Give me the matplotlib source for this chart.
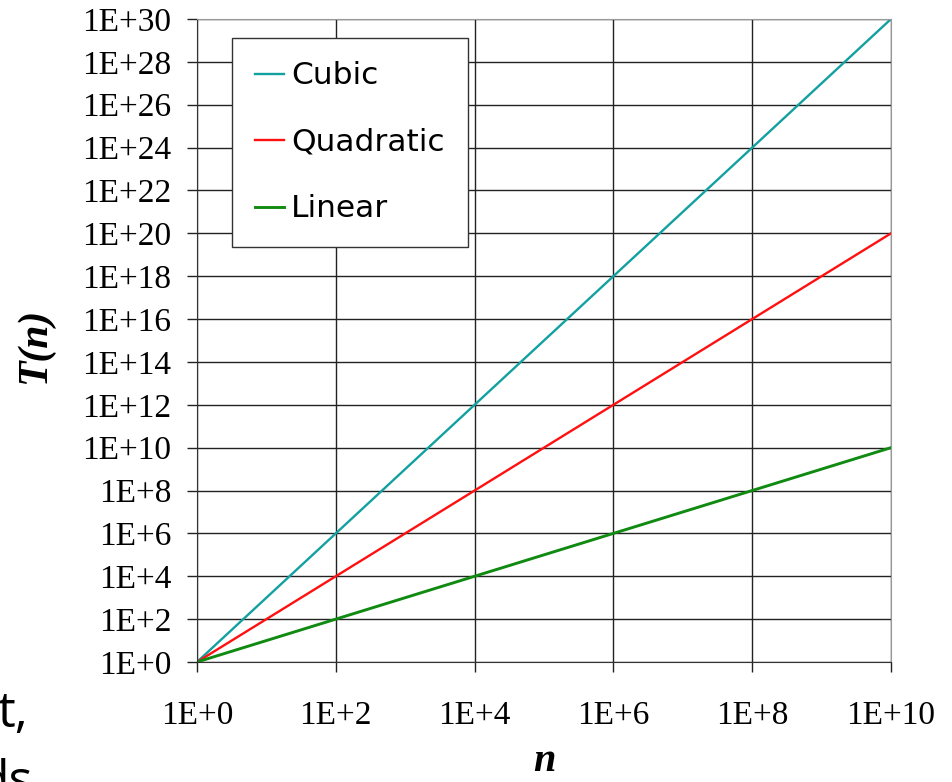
import numpy as np
import matplotlib.pyplot as plt

# data (decade steps)
n = [1e0, 1e1, 1e2, 1e3, 1e4, 1e5, 1e6, 1e7, 1e8, 1e9, 1e10]
linear = [1e0, 1e1, 1e2, 1e3, 1e4, 1e5, 1e6, 1e7, 1e8, 1e9, 1e10]
quadratic = [1e0, 1e2, 1e4, 1e6, 1e8, 1e10, 1e12, 1e14, 1e16, 1e18, 1e20]
cubic = [1e0, 1e3, 1e6, 1e9, 1e12, 1e15, 1e18, 1e21, 1e24, 1e27, 1e30]

x_ticks = [1e0, 1e2, 1e4, 1e6, 1e8, 1e10]
x_labels = ['1E+0', '1E+2', '1E+4', '1E+6', '1E+8', '1E+10']
y_ticks = [10.0 ** k for k in range(0, 31, 2)]
y_labels = ['1E+%d' % k for k in range(0, 31, 2)]

W, H = 952, 782
fig = plt.figure(figsize=(W / 100, H / 100), dpi=100)
ax = fig.add_axes([197 / W, 1 - 662 / H, (891 - 197) / W, (662 - 19) / H])

ax.plot(n, cubic, color='#12A0A0', lw=1.7, label='Cubic')
ax.plot(n, quadratic, color='#FF1010', lw=1.7, label='Quadratic')
ax.plot(n, linear, color='#108A10', lw=2.1, label='Linear')

ax.set_xscale('log')
ax.set_yscale('log')
ax.set_xlim(1e0, 1e10)
ax.set_ylim(1e0, 1e30)
ax.minorticks_off()
ax.set_xticks(x_ticks)
ax.set_xticklabels(x_labels)
ax.set_yticks(y_ticks)
ax.set_yticklabels(y_labels)
ax.grid(True, color='#222222', lw=1.0)
ax.set_axisbelow(True)

for lab in ax.get_xticklabels() + ax.get_yticklabels():
    lab.set_family('Liberation Serif')
    lab.set_fontsize(24)
ax.tick_params(axis='both', direction='out', length=7.5, width=1.0, color='#222222')
ax.tick_params(axis='x', pad=20)
ax.tick_params(axis='y', pad=11)

for side in ['left', 'bottom']:
    ax.spines[side].set_color('#333333')
for side in ['top', 'right']:
    ax.spines[side].set_color('#999999')

ax.set_xlabel('n', family='Liberation Serif', style='italic', weight='heavy', fontsize=29)
ax.set_ylabel('T(n)', family='Liberation Serif', style='italic', weight='heavy', fontsize=30)
ax.xaxis.label.set_va('baseline')
ax.xaxis.set_label_coords(0.5, -(771 - 662) / (662 - 19))
ax.yaxis.label.set_va('center')
ax.yaxis.set_label_coords((35 - 197) / (891 - 197), 1 - (345 - 19) / (662 - 19))

leg = ax.legend(loc='upper left', bbox_to_anchor=((232 - 197) / (891 - 197), 1 - (38 - 19) / (662 - 19)),
                prop={'family': 'DejaVu Sans', 'size': 22.5}, frameon=True, fancybox=False,
                handlelength=0.9, handletextpad=0.25, labelspacing=1.2, borderpad=0.75,
                borderaxespad=0)
leg.get_frame().set_edgecolor('#333333')
leg.get_frame().set_linewidth(1.0)
leg.get_frame().set_alpha(1)

# cropped slide text at the lower left
fig.text(28 / W, 1 - 727 / H, 't,', ha='right', va='baseline', family='Open Sans', fontsize=36)
fig.text(33 / W, 1 - 796 / H, 'ds', ha='right', va='baseline', family='Open Sans', fontsize=36)

plt.savefig('out.png', dpi=100)
